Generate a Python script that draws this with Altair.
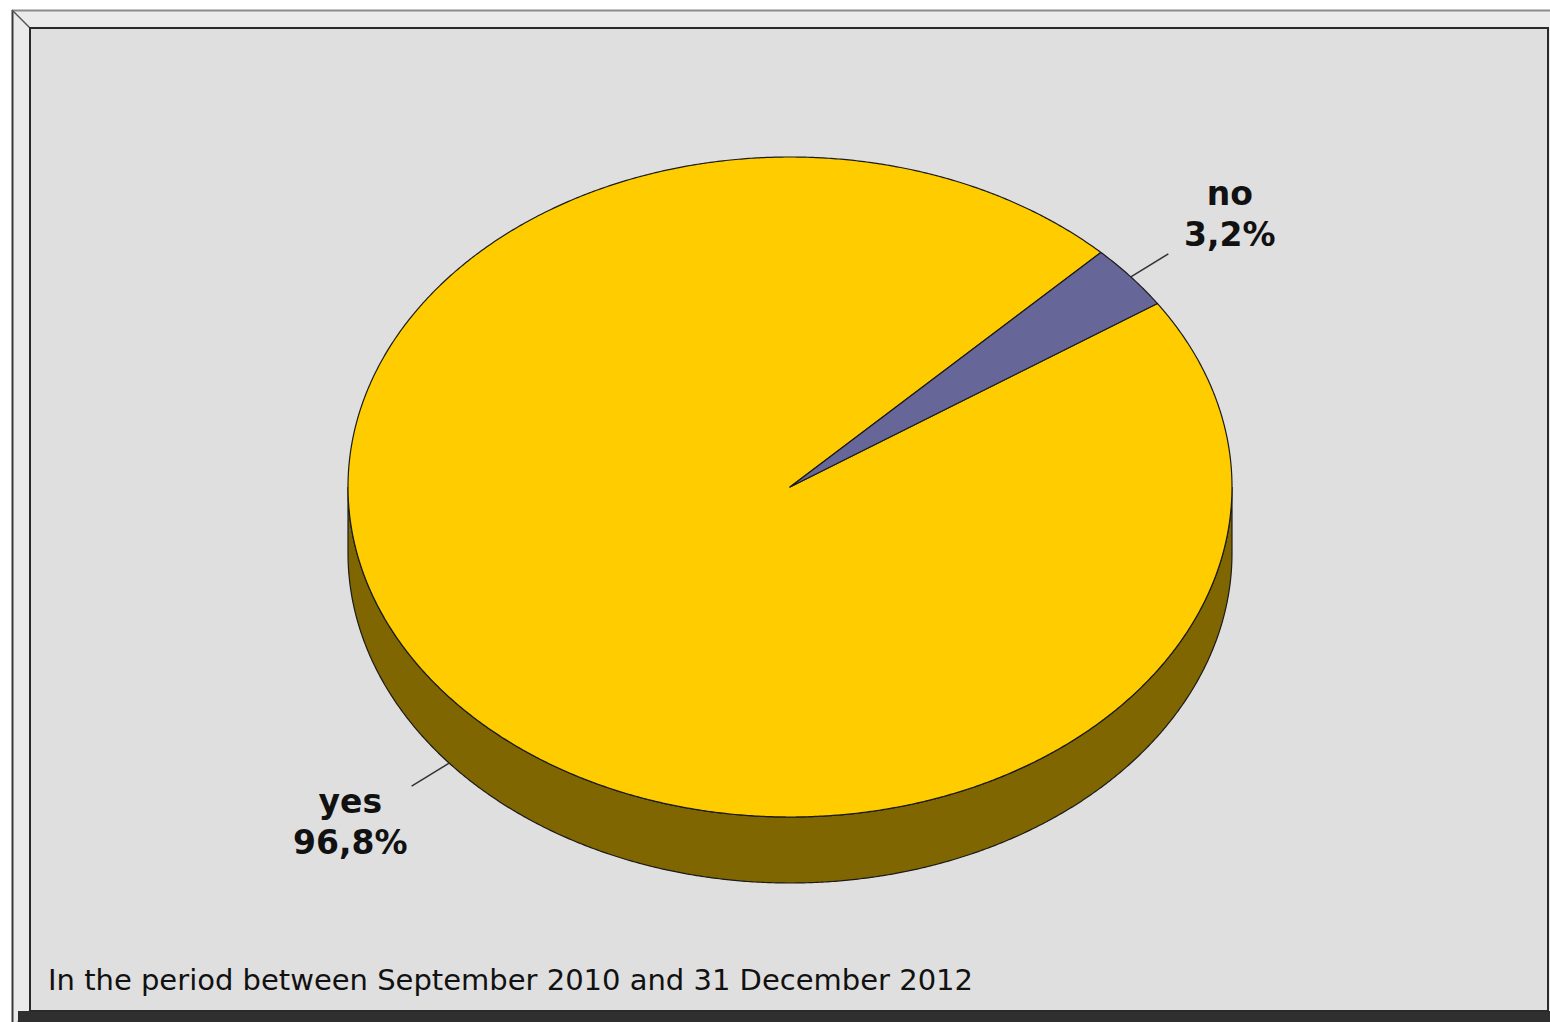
import numpy as np
import pandas as pd
import altair as alt

# ---- data ----
categories = ["yes", "no"]
shares = [96.8, 3.2]
share_labels = ["96,8%", "3,2%"]
slice_colors = ["#FFCC00", "#666699"]
side_colors = ["#7F6600", "#333366"]
footnote = "In the period between September 2010 and 31 December 2012"

# ---- layout (pixels) ----
W, H = 1550, 1022
CX, CY = 790, 487          # centre of the top face
RX, RY = 442, 330          # radii of the tilted (elliptical) pie
DEPTH = 66                 # thickness of the 3-D pie
START_DEG = 45.3           # first slice ("no") starts here, going clockwise


def ell(t_deg, k=1.0, drop=0.0):
    t = np.radians(t_deg)
    return CX + k * RX * np.cos(t), CY - k * RY * np.sin(t) + drop


# slices clockwise from the start angle: "no" then "yes"
order = list(reversed(range(len(categories))))
total = sum(shares)
rows, sides, labels = [], [], []
a0 = START_DEG
for idx in order:
    span = shares[idx] / total * 360.0
    a1 = a0 - span
    # top face polygon
    n = max(6, int(span * 3))
    ts = np.linspace(a0, a1, n)
    pts = [(CX, CY)] + [ell(t) for t in ts]
    for j, (x, y) in enumerate(pts):
        rows.append({"part": categories[idx], "i": j, "x": x, "y": y})
    # visible side wall (lower half of the ellipse)
    for kk in range(-2, 2):
        lo = max(a1, 180 + 360 * kk)
        hi = min(a0, 360 + 360 * kk)
        if hi > lo:
            m = max(6, int((hi - lo) * 3))
            ts2 = np.linspace(lo, hi, m)
            pts2 = [ell(t) for t in ts2] + [ell(t, drop=DEPTH) for t in ts2[::-1]]
            for j, (x, y) in enumerate(pts2):
                sides.append({"part": categories[idx], "i": j, "x": x, "y": y})
    # label + leader line at mid angle
    mid = (a0 + a1) / 2.0
    drop = DEPTH if np.sin(np.radians(mid)) < 0 else 0
    sx, sy = ell(mid, 1.0, drop)
    ex, ey = ell(mid, 1.11, drop)
    lx, ly = ell(mid, 1.29, drop)
    labels.append({"name": categories[idx], "pct": share_labels[idx],
                   "sx": sx, "sy": sy, "ex": ex, "ey": ey, "lx": lx, "ly": ly})
    a0 = a1

poly = pd.DataFrame(rows)
side = pd.DataFrame(sides)
lab = pd.DataFrame(labels)

xs = alt.Scale(domain=[0, W], nice=False, zero=False)
ys = alt.Scale(domain=[0, H], nice=False, zero=False, reverse=True)

one = pd.DataFrame({"a": [0]})


def frame_rect(x, x2, y, y2, **kw):
    return alt.Chart(one).mark_rect(**kw).encode(
        x=alt.value(x), x2=alt.value(x2), y=alt.value(y), y2=alt.value(y2))


def frame_rule(x, x2, y, y2, **kw):
    return alt.Chart(one).mark_rule(**kw).encode(
        x=alt.value(x), x2=alt.value(x2), y=alt.value(y), y2=alt.value(y2))


frame = [
    frame_rect(12, W, 10, H, fill="#ebebeb", strokeWidth=0),
    frame_rect(18, W, 1011, H, fill="#2f2f2f", strokeWidth=0),
    frame_rule(12.5, 12.5, 10, H, color="#3a3a3a", strokeWidth=2),
    frame_rule(12, W, 10.5, 10.5, color="#8c8c8c", strokeWidth=2),
    frame_rule(12, 30, 10, 28, color="#555555", strokeWidth=1.5),
    frame_rule(30, 18, 1011, H, color="#2f2f2f", strokeWidth=2),
    frame_rect(30, W - 2, 28, 1011, fill="#dfdfdf", stroke="#2a2a2a", strokeWidth=2),
]

layers = list(frame)

for idx, cat in enumerate(categories):
    if cat in set(side["part"]):
        layers.append(
            alt.Chart(side).transform_filter(alt.datum.part == cat)
            .mark_line(interpolate="linear-closed", fill=side_colors[idx],
                       stroke="#1a1a1a", strokeWidth=1.2)
            .encode(x=alt.X("x:Q", scale=xs, axis=None),
                    y=alt.Y("y:Q", scale=ys, axis=None),
                    order=alt.Order("i:Q"))
        )

for idx in reversed(order):
    cat = categories[idx]
    layers.append(
        alt.Chart(poly).transform_filter(alt.datum.part == cat)
        .mark_line(interpolate="linear-closed", fill=slice_colors[idx],
                   stroke="#1a1a1a", strokeWidth=1.2, strokeJoin="round")
        .encode(x=alt.X("x:Q", scale=xs, axis=None),
                y=alt.Y("y:Q", scale=ys, axis=None),
                order=alt.Order("i:Q"))
    )

layers.append(
    alt.Chart(lab).mark_rule(color="#333333", strokeWidth=1.5).encode(
        x=alt.X("sx:Q", scale=xs, axis=None), x2="ex:Q",
        y=alt.Y("sy:Q", scale=ys, axis=None), y2="ey:Q")
)
layers.append(
    alt.Chart(lab).mark_text(font="DejaVu Sans", fontSize=33, fontWeight="bold",
                             color="#111111", align="center", baseline="middle",
                             dy=-21).encode(
        x=alt.X("lx:Q", scale=xs, axis=None),
        y=alt.Y("ly:Q", scale=ys, axis=None), text="name:N")
)
layers.append(
    alt.Chart(lab).mark_text(font="DejaVu Sans", fontSize=33, fontWeight="bold",
                             color="#111111", align="center", baseline="middle",
                             dy=20).encode(
        x=alt.X("lx:Q", scale=xs, axis=None),
        y=alt.Y("ly:Q", scale=ys, axis=None), text="pct:N")
)
layers.append(
    alt.Chart(pd.DataFrame({"t": [footnote]})).mark_text(
        font="DejaVu Sans", fontSize=29, color="#111111", align="left",
        baseline="alphabetic").encode(
        x=alt.value(48), y=alt.value(990), text="t:N")
)

chart = alt.layer(*layers).properties(
    width=W, height=H, padding=0, background="white",
    autosize=alt.AutoSizeParams(type="none"),
).configure_view(stroke=None)

chart.save("out.html", embed_options={"renderer": "svg", "actions": False})
